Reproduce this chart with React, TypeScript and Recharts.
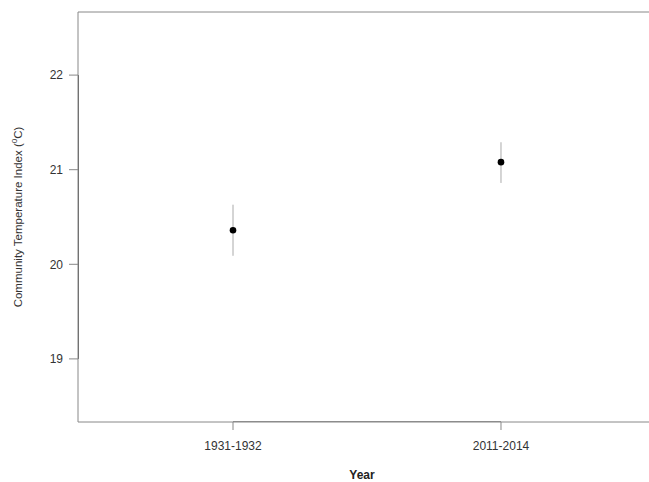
import React from "react";
import {
  ComposedChart,
  Scatter,
  ErrorBar,
  XAxis,
  YAxis,
  ReferenceLine,
} from "recharts";

const categories = ["1931-1932", "2011-2014"];
const means = [20.36, 21.08];
const lower = [20.09, 20.86];
const upper = [20.63, 21.29];
const yTicks = [19, 20, 21, 22];
const xTicks = [1, 2];

const data = categories.map((c, i) => ({
  x: i + 1,
  y: means[i],
  err: [means[i] - lower[i], upper[i] - means[i]],
}));

const X_DOMAIN: [number, number] = [0.4216, 2.556];
const Y_DOMAIN: [number, number] = [18.333, 22.667];
const FONT = "'Liberation Sans', Arial, sans-serif";

const leftAxisSeg = [
  { x: X_DOMAIN[0], y: yTicks[0] },
  { x: X_DOMAIN[0], y: yTicks[yTicks.length - 1] },
];
const bottomAxisSeg = [
  { x: xTicks[0], y: Y_DOMAIN[0] },
  { x: xTicks[xTicks.length - 1], y: Y_DOMAIN[0] },
];

const Dot = (props: any) => (
  <circle cx={props.cx} cy={props.cy} r={3.3} fill="#000" />
);
const NoDot = () => <g />;

export default function App() {
  return (
    <div
      style={{
        position: "absolute",
        left: 0,
        top: 0,
        width: 649,
        height: 482,
        overflow: "hidden",
        background: "#fff",
      }}
    >
      <ComposedChart
        width={650}
        height={482}
        data={data}
        margin={{ top: 12, right: 0, bottom: 0, left: 0 }}
      >
        <XAxis
          type="number"
          dataKey="x"
          domain={X_DOMAIN}
          ticks={xTicks}
          tickFormatter={(v: number) => categories[v - 1]}
          allowDataOverflow
          height={60}
          axisLine={{ stroke: "#888", strokeWidth: 1 }}
          tickLine={{ stroke: "#888" }}
          tickSize={8}
          tickMargin={11}
          tick={{ fill: "#333", fontSize: 12, fontFamily: FONT }}
        />
        <YAxis
          type="number"
          dataKey="y"
          domain={Y_DOMAIN}
          ticks={yTicks}
          allowDataOverflow
          width={78}
          axisLine={{ stroke: "#888", strokeWidth: 1 }}
          tickLine={{ stroke: "#888" }}
          tickSize={9}
          tickMargin={6}
          tick={{ fill: "#333", fontSize: 12, fontFamily: FONT }}
        />
        <ReferenceLine y={Y_DOMAIN[1]} stroke="#888" strokeWidth={1} />
        <Scatter
          data={leftAxisSeg}
          dataKey="y"
          line={{ stroke: "#222", strokeWidth: 1 }}
          shape={<NoDot />}
          isAnimationActive={false}
        />
        <Scatter
          data={bottomAxisSeg}
          dataKey="y"
          line={{ stroke: "#555", strokeWidth: 1 }}
          shape={<NoDot />}
          isAnimationActive={false}
        />
        <Scatter
          data={data}
          dataKey="y"
          shape={<Dot />}
          isAnimationActive={false}
        >
          <ErrorBar
            dataKey="err"
            direction="y"
            width={0}
            stroke="#aaa"
            strokeWidth={1}
          />
        </Scatter>
      </ComposedChart>
      <svg
        width={649}
        height={482}
        style={{ position: "absolute", left: 0, top: 0, pointerEvents: "none" }}
      >
        <text
          x={18}
          y={217}
          transform="rotate(-90, 18, 217)"
          textAnchor="middle"
          dominantBaseline="central"
          fontFamily={FONT}
          fontSize={11.5}
          fill="#333"
        >
          <tspan>Community Temperature Index (</tspan>
          <tspan fontSize={8} dy={-4}>0</tspan>
          <tspan dy={4}>C)</tspan>
        </text>
        <text
          x={362}
          y={479}
          textAnchor="middle"
          fontFamily={FONT}
          fontSize={12}
          fontWeight="bold"
          fill="#222"
        >
          Year
        </text>
      </svg>
    </div>
  );
}
